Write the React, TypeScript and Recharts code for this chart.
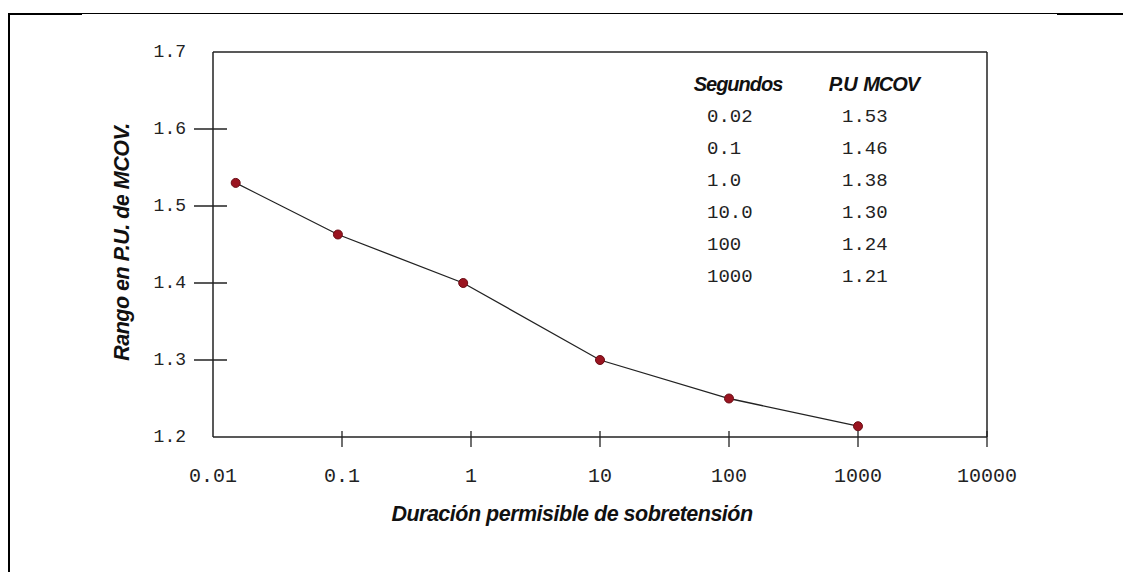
import { Line, LineChart, ReferenceLine, XAxis, YAxis } from "recharts";

// plotted positions (the markers sit a bit off the table values)
const durations = [0.015, 0.093, 0.87, 10, 100, 1000];
const puValues = [1.53, 1.463, 1.4, 1.3, 1.25, 1.214];

const xTicks = [0.01, 0.1, 1, 10, 100, 1000, 10000];
const yTicks = [1.2, 1.3, 1.4, 1.5, 1.6, 1.7];

// inset table
const tableSeconds = ["0.02", "0.1", "1.0", "10.0", "100", "1000"];
const tableMcov = ["1.53", "1.46", "1.38", "1.30", "1.24", "1.21"];

const data = durations.map((t, i) => ({ t, pu: puValues[i] }));

const ink = "#222";
const monoFont = "'Liberation Mono', 'DejaVu Sans Mono', monospace";
const sansFont = "'Liberation Sans', Arial, sans-serif";

const XTick = ({ x, y, payload }: any) => (
  <g>
    {payload.value !== xTicks[0] && (
      <line x1={x} x2={x} y1={y - 6} y2={y + 10} stroke={ink} strokeWidth={1.3} />
    )}
    <text
      x={x}
      y={y + 39}
      textAnchor="middle"
      dominantBaseline="central"
      fontFamily={monoFont}
      fontSize={20}
      fill={ink}
    >
      {String(payload.value)}
    </text>
  </g>
);

const YTick = ({ x, y, payload }: any) => {
  const edge = payload.value === yTicks[0] || payload.value === yTicks[yTicks.length - 1];
  return (
    <g>
      {!edge && <line x1={x - 19} x2={x + 14} y1={y} y2={y} stroke={ink} strokeWidth={1.3} />}
      <text
        x={x - 27}
        y={y}
        textAnchor="end"
        dominantBaseline="central"
        fontFamily={monoFont}
        fontSize={18}
        fill={ink}
      >
        {payload.value.toFixed(1)}
      </text>
    </g>
  );
};

const abs = (left: number, top: number, extra: any = {}) => ({
  position: "absolute" as const,
  left,
  top,
  ...extra,
});

const titleStyle = {
  whiteSpace: "nowrap",
  fontFamily: sansFont,
  fontStyle: "italic",
  fontWeight: "bold",
  fontSize: 21.5,
  letterSpacing: -0.5,
  color: "#111",
};

const App = () => {
  return (
    <div style={{ position: "relative", width: 1123, height: 564 }}>
      {/* page frame */}
      <div style={abs(0, 5, { width: 1123, height: 1, background: "#000" })} />
      <div style={abs(0, 5, { width: 74, height: 2, background: "#000" })} />
      <div style={abs(1049, 5, { width: 74, height: 2, background: "#000" })} />
      <div style={abs(0, 5, { width: 2, height: 559, background: "#000" })} />

      <LineChart
        width={1123}
        height={564}
        data={data}
        margin={{ top: 44, right: 144, bottom: 75, left: 145 }}
      >
        <XAxis
          dataKey="t"
          type="number"
          scale="log"
          domain={[0.01, 10000]}
          allowDataOverflow
          ticks={xTicks}
          interval={0}
          height={60}
          tickSize={0}
          tickMargin={0}
          tickLine={false}
          tick={<XTick />}
          axisLine={{ stroke: ink, strokeWidth: 1.5 }}
        />
        <YAxis
          type="number"
          domain={[1.2, 1.7]}
          ticks={yTicks}
          interval={0}
          width={60}
          tickSize={0}
          tickMargin={0}
          tickLine={false}
          tick={<YTick />}
          axisLine={{ stroke: ink, strokeWidth: 1.5 }}
        />
        <ReferenceLine y={1.7} stroke={ink} strokeWidth={1.5} />
        <ReferenceLine x={10000} stroke={ink} strokeWidth={1.5} />
        <Line
          dataKey="pu"
          stroke={ink}
          strokeWidth={1.3}
          dot={{ r: 4.5, fill: "#9a1420", stroke: "#6b0e16", strokeWidth: 1 }}
          isAnimationActive={false}
        />
      </LineChart>

      {/* axis titles */}
      <div
        style={abs(114, 234, {
          ...titleStyle,
          transform: "translate(-50%, -50%) rotate(-90deg)",
        })}
      >
        Rango en P.U. de MCOV.
      </div>
      <div style={abs(564, 506, { ...titleStyle, transform: "translate(-50%, -50%)" })}>
        Duración permisible de sobretensión
      </div>

      {/* inset table */}
      <div
        style={abs(730, 76, {
          ...titleStyle,
          fontSize: 20,
          letterSpacing: -1,
          transform: "translate(-50%, -50%)",
        })}
      >
        Segundos
      </div>
      <div
        style={abs(866, 76, {
          ...titleStyle,
          fontSize: 20,
          letterSpacing: -1,
          wordSpacing: 2,
          transform: "translate(-50%, -50%)",
        })}
      >
        P.U MCOV
      </div>
      {tableSeconds.map((s, i) => (
        <div
          key={s}
          style={abs(699, 109 + i * 32, {
            transform: "translateY(-50%)",
            fontFamily: monoFont,
            fontSize: 19,
            color: ink,
            whiteSpace: "nowrap",
          })}
        >
          {s}
        </div>
      ))}
      {tableMcov.map((v, i) => (
        <div
          key={v}
          style={abs(834, 109 + i * 32, {
            transform: "translateY(-50%)",
            fontFamily: monoFont,
            fontSize: 19,
            color: ink,
            whiteSpace: "nowrap",
          })}
        >
          {v}
        </div>
      ))}
    </div>
  );
};

export default App;
